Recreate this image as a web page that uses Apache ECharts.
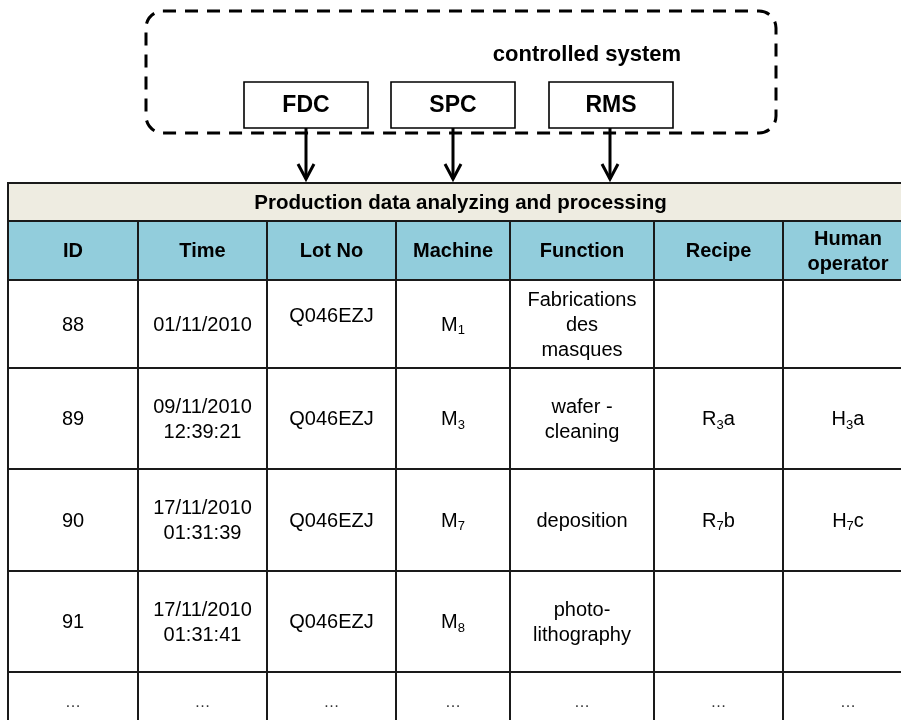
<!DOCTYPE html>
<html><head><meta charset="utf-8">
<script src="https://cdn.jsdelivr.net/npm/echarts@6/dist/echarts.min.js"></script>
<style>html,body{margin:0;padding:0;background:#fff}#c{width:901px;height:720px}</style>
</head><body><div id="c"></div>
<script>
// ---- content ----
const systemLabel = 'controlled system';
const systems = ['FDC', 'SPC', 'RMS'];
const tableTitle = 'Production data analyzing and processing';
const headers = ['ID', 'Time', 'Lot No', 'Machine', 'Function', 'Recipe', 'Human\noperator'];
const ids = ['88', '89', '90', '91', '…'];
const times = ['01/11/2010', '09/11/2010\n12:39:21', '17/11/2010\n01:31:39', '17/11/2010\n01:31:41', '…'];
const lots = ['Q046EZJ', 'Q046EZJ', 'Q046EZJ', 'Q046EZJ', '…'];
const machines = ['M_1', 'M_3', 'M_7', 'M_8', '…'];
const functions = ['Fabrications\ndes\nmasques', 'wafer -\ncleaning', 'deposition', 'photo-\nlithography', '…'];
const recipes = ['', 'R_3a', 'R_7b', '', '…'];
const operators = ['', 'H_3a', 'H_7c', '', '…'];

// ---- layout ----
const colEdges = [8, 138, 267, 396, 510, 654, 783, 913];
const rowEdges = [183, 221, 280, 368, 469, 571, 672, 736];
const cellNudge = { '2,2': -9 };
const sysBoxLeft = [244, 391, 549];
const sysBoxW = 124, sysBoxTop = 82, sysBoxBottom = 128;
const arrowX = [306, 453, 610], arrowBottom = 180;
const outer = [146, 11, 776, 133];
const FONT = '"Liberation Sans", Arial, sans-serif';

const columns = [ids, times, lots, machines, functions, recipes, operators];

function richify(s) {
  const m = s.match(/^(.*?)_(\d)(.*)$/);
  if (!m) return null;
  let out = '';
  if (m[1]) out += '{n|' + m[1] + '}';
  out += '{s|' + m[2] + '}';
  if (m[3]) out += '{n|' + m[3] + '}';
  return out;
}

const cellData = [];
cellData.push({ value: [0, 0], kind: 'title', text: tableTitle });
headers.forEach((h, c) => cellData.push({ value: [c, 1], kind: 'head', text: h }));
columns.forEach((arr, c) => arr.forEach((t, r) => cellData.push({ value: [c, r + 2], kind: 'body', text: t })));

const chart = echarts.init(document.getElementById('c'), null, { renderer: 'canvas' });

chart.setOption({
  animation: false,
  backgroundColor: '#ffffff',
  grid: { left: 0, right: 0, top: 0, bottom: 0 },
  xAxis: { type: 'value', min: 0, max: 901, show: false },
  yAxis: { type: 'value', min: 0, max: 720, inverse: true, show: false },
  series: [
    {
      type: 'custom', coordinateSystem: 'cartesian2d', silent: true, z: 1,
      data: [{ value: [0, 0] }],
      renderItem: function (params, api) {
        const p0 = api.coord([outer[0], outer[1]]);
        const p1 = api.coord([outer[2], outer[3]]);
        return {
          type: 'group', children: [
            { type: 'rect', shape: { x: p0[0], y: p0[1], width: p1[0] - p0[0], height: p1[1] - p0[1], r: 17 },
              style: { fill: 'none', stroke: '#000', lineWidth: 3, lineDash: [13, 9] } },
            { type: 'text', style: { text: systemLabel, x: api.coord([587, 0])[0], y: api.coord([0, 55])[1],
              align: 'center', verticalAlign: 'middle', fill: '#000', font: 'bold 22px ' + FONT } }
          ]
        };
      }
    },
    {
      type: 'custom', coordinateSystem: 'cartesian2d', silent: true, z: 2,
      data: systems.map((s, i) => ({ value: [i, 0], name: s })),
      renderItem: function (params, api) {
        const i = api.value(0);
        const b0 = api.coord([sysBoxLeft[i], sysBoxTop]);
        const b1 = api.coord([sysBoxLeft[i] + sysBoxW, sysBoxBottom]);
        const a0 = api.coord([arrowX[i], sysBoxBottom]);
        const a1 = api.coord([arrowX[i], arrowBottom]);
        return {
          type: 'group', children: [
            { type: 'rect', shape: { x: b0[0], y: b0[1], width: b1[0] - b0[0], height: b1[1] - b0[1] },
              style: { fill: '#fff', stroke: '#000', lineWidth: 1.6 } },
            { type: 'text', style: { text: systems[i], x: (b0[0] + b1[0]) / 2, y: (b0[1] + b1[1]) / 2 + 1,
              align: 'center', verticalAlign: 'middle', fill: '#000', font: 'bold 23px ' + FONT } },
            { type: 'line', shape: { x1: a0[0], y1: a0[1], x2: a1[0], y2: a1[1] - 1 },
              style: { stroke: '#000', lineWidth: 3 } },
            { type: 'polyline', shape: { points: [[a1[0] - 8, a1[1] - 16], [a1[0], a1[1] - 1], [a1[0] + 8, a1[1] - 16]] },
              style: { stroke: '#000', lineWidth: 3, fill: 'none', lineJoin: 'miter' } }
          ]
        };
      }
    },
    {
      type: 'custom', coordinateSystem: 'cartesian2d', silent: true, z: 3,
      data: cellData,
      renderItem: function (params, api) {
        const d = cellData[params.dataIndex];
        const c = api.value(0), r = api.value(1);
        let x0v, x1v;
        if (d.kind === 'title') { x0v = colEdges[0]; x1v = colEdges[colEdges.length - 1]; }
        else { x0v = colEdges[c]; x1v = colEdges[c + 1]; }
        const p0 = api.coord([x0v, rowEdges[r]]);
        const p1 = api.coord([x1v, rowEdges[r + 1]]);
        const fill = d.kind === 'title' ? '#EEECE1' : d.kind === 'head' ? '#92CDDC' : '#ffffff';
        const nudge = cellNudge[c + ',' + r] || 0;
        const rich = richify(d.text);
        const isDots = d.text === '…';
        const font = (d.kind === 'body' ? '' : 'bold ') + (d.kind === 'title' ? '20.5px ' : (isDots ? '16px ' : '20px ')) + FONT;
        const textStyle = {
          text: rich || d.text,
          x: (p0[0] + p1[0]) / 2, y: (p0[1] + p1[1]) / 2 + nudge + (isDots ? -1 : 1),
          align: 'center', verticalAlign: 'middle', fill: isDots ? '#333' : '#000', font: font, lineHeight: 25
        };
        if (rich) {
          textStyle.rich = {
            n: { fontSize: 20, fontFamily: FONT, lineHeight: 24, fill: '#000' },
            s: { fontSize: 13, fontFamily: FONT, lineHeight: 13, fill: '#000', verticalAlign: 'bottom' }
          };
        }
        return {
          type: 'group', children: [
            { type: 'rect', shape: { x: p0[0], y: p0[1], width: p1[0] - p0[0], height: p1[1] - p0[1] },
              style: { fill: fill, stroke: '#1a1a1a', lineWidth: 2 } },
            { type: 'text', style: textStyle }
          ]
        };
      }
    }
  ]
});
</script></body></html>
